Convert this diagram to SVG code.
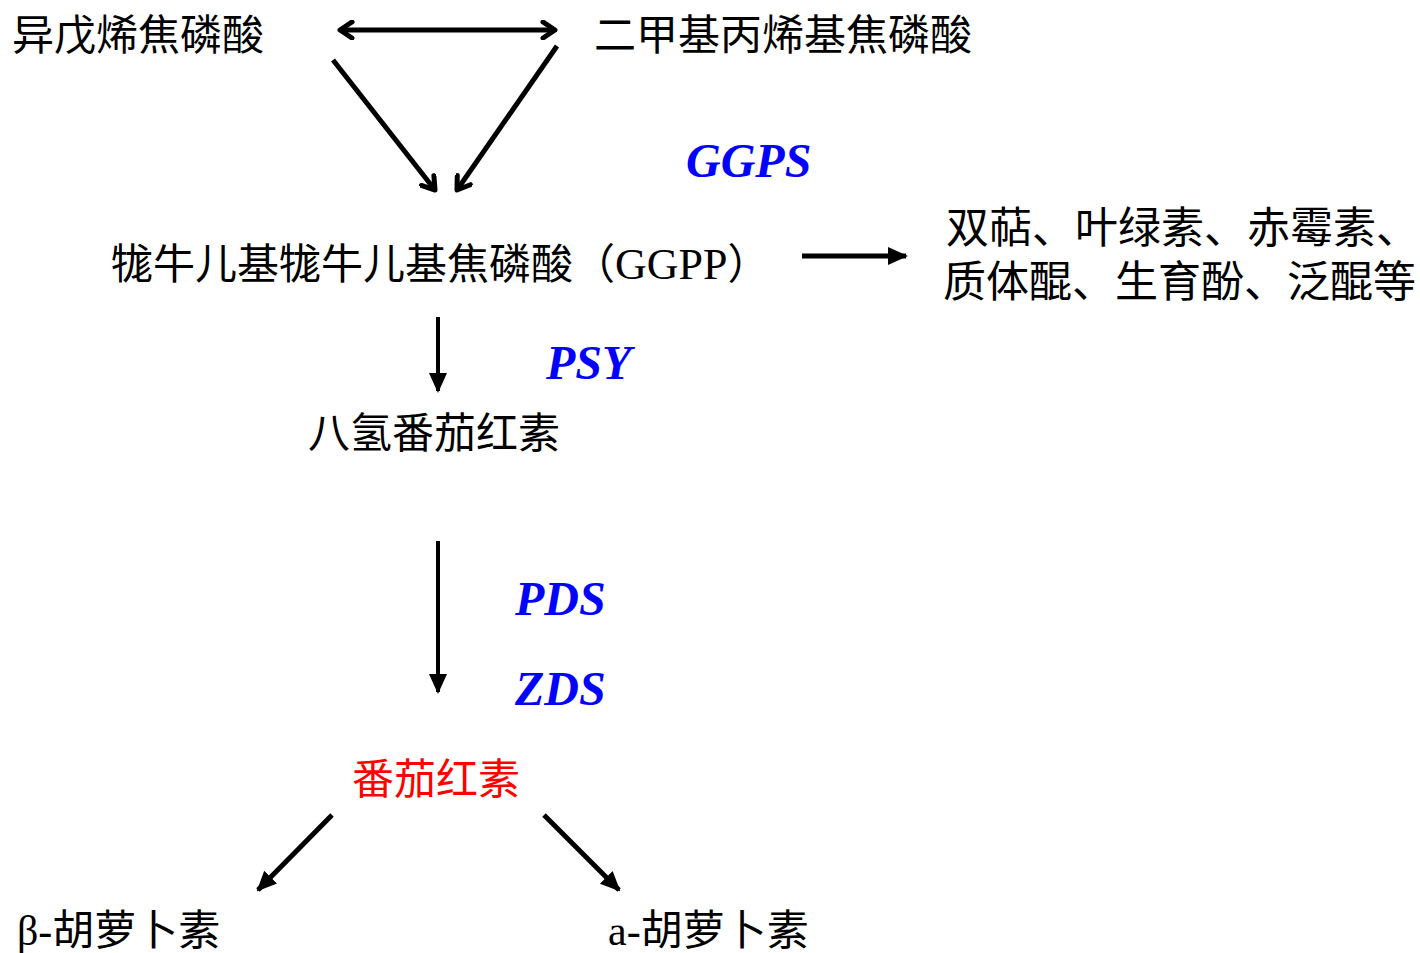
<svg xmlns="http://www.w3.org/2000/svg" width="1420" height="953" viewBox="0 0 1420 953">
<style>
.cjk{font-family:"Noto Sans CJK SC",sans-serif;font-size:42px;fill:#000}
.mix{font-family:"Liberation Serif","Noto Sans CJK SC",serif;font-size:42px;fill:#000}
.enz{font-family:"Liberation Serif",serif;font-size:48px;font-weight:bold;font-style:italic;fill:#0000ff}
.red{fill:#ff0000}
.big{font-size:43px}
.ln{stroke:#000;stroke-width:5;fill:none}
.ln4{stroke:#000;stroke-width:4;fill:none}
</style>
<defs>
<marker id="open" viewBox="0 0 20 20" refX="16" refY="10" markerWidth="20" markerHeight="20" markerUnits="userSpaceOnUse" orient="auto-start-reverse">
<polyline points="4,2 16,10 4,18" fill="none" stroke="#000" stroke-width="5" stroke-linecap="round" stroke-linejoin="round"/>
</marker>
<marker id="fill" viewBox="0 0 20 20" refX="18" refY="10" markerWidth="20" markerHeight="20" markerUnits="userSpaceOnUse" orient="auto">
<polygon points="0,1 20,10 0,19" fill="#000"/>
</marker>
</defs>
<rect width="1420" height="953" fill="#fff"/>
<g id="connectors">
<line class="ln" x1="340" y1="30" x2="555" y2="30" marker-start="url(#open)" marker-end="url(#open)"/>
<line class="ln" x1="333" y1="60" x2="435" y2="190" marker-end="url(#open)"/>
<line class="ln" x1="557" y1="46" x2="457" y2="190" marker-end="url(#open)"/>
<line class="ln" x1="802" y1="256" x2="906" y2="256" marker-end="url(#fill)"/>
<line class="ln4" x1="438" y1="317" x2="438" y2="391" marker-end="url(#fill)"/>
<line class="ln4" x1="438" y1="541" x2="438" y2="692" marker-end="url(#fill)"/>
<line class="ln" x1="332" y1="815" x2="258" y2="890" marker-end="url(#fill)"/>
<line class="ln" x1="544" y1="815" x2="619" y2="890" marker-end="url(#fill)"/>
</g>
<g id="ipp"><text class="cjk" x="12" y="50">异戊烯焦磷酸</text></g>
<g id="dmapp"><text class="cjk" x="594" y="50">二甲基丙烯基焦磷酸</text></g>
<g id="ggps"><text class="enz" x="686" y="177">GGPS</text></g>
<g id="ggpp"><text class="mix" x="111" y="279">牻牛儿基牻牛儿基焦磷酸（<tspan font-size="44">GGPP</tspan>）</text></g>
<g id="others">
<text class="cjk big" x="946" y="243">双萜、叶绿素、赤霉素、</text>
<text class="cjk big" x="943" y="297">质体醌、生育酚、泛醌等</text>
</g>
<g id="psy"><text class="enz" x="546" y="379">PSY</text></g>
<g id="phytoene"><text class="cjk" x="308" y="448">八氢番茄红素</text></g>
<g id="pds"><text class="enz" x="515" y="615">PDS</text></g>
<g id="zds"><text class="enz" x="515" y="705">ZDS</text></g>
<g id="lycopene"><text class="cjk red" x="352" y="794">番茄红素</text></g>
<g id="bcar"><text class="mix" x="17" y="945">β-胡萝卜素</text></g>
<g id="acar"><text class="mix" x="608" y="945">a-胡萝卜素</text></g>
</svg>
